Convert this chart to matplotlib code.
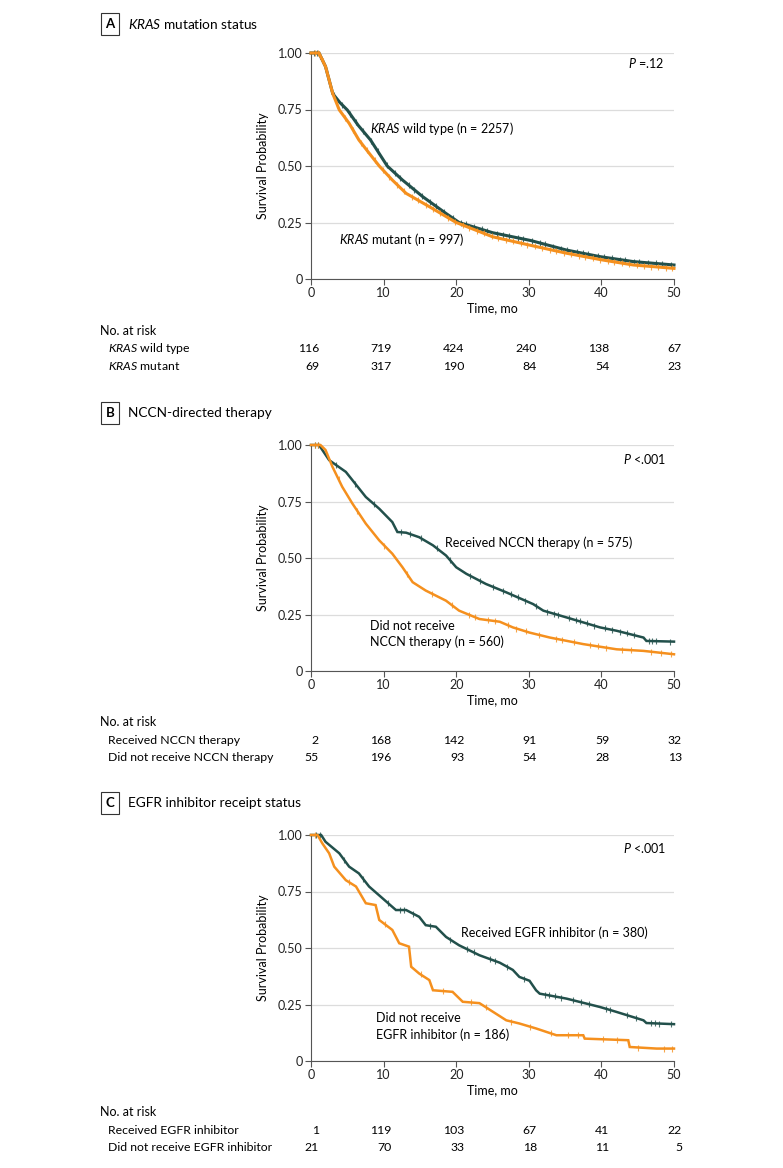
import numpy as np
import matplotlib.pyplot as plt

plt.rcParams['font.family'] = ['Lato', 'DejaVu Sans']
plt.rcParams['font.size'] = 9
plt.rcParams['mathtext.fontset'] = 'custom'
plt.rcParams['mathtext.rm'] = 'Lato'
plt.rcParams['mathtext.it'] = 'Lato:italic'

W, H = 783, 1168
dark = '#22504b'
orange = '#f5901e'
grey = '#555555'

# ---- Panel A: KRAS mutation status ----
a_wt_t = [0, 1.1, 2.0, 3.0, 4.0, 5.0, 6.5, 8.2, 10.5, 12.6, 15.4, 18.6, 20.4, 25.0, 30.3, 35.2, 39.8, 44.4, 50]
a_wt_s = [1.0, 1.0, 0.94, 0.82, 0.78, 0.748, 0.68, 0.615, 0.50, 0.438, 0.364, 0.29, 0.25, 0.205, 0.17, 0.128, 0.099, 0.077, 0.062]
a_mt_t = [0, 1.1, 2.0, 3.0, 3.9, 5.25, 6.6, 8.0, 9.4, 11.2, 13.1, 16.3, 20.0, 25.0, 30.1, 35.2, 40.0, 44.4, 50]
a_mt_s = [1.0, 1.0, 0.94, 0.82, 0.748, 0.689, 0.615, 0.557, 0.50, 0.438, 0.379, 0.32, 0.25, 0.187, 0.15, 0.114, 0.085, 0.062, 0.047]
a_wt_cens = [0.4, 0.8, 1.3, 2.2, 3.1, 4.3, 5.4, 6.2, 7.1, 8.3, 9.2, 10.4, 11.6, 12.3, 13.5, 14.2, 15.3, 16.4, 17.2,
             18.3, 19.5, 20.6, 21.3, 22.4, 23.5, 24.2, 25.6, 26.4, 27.3, 28.5, 29.2, 30.4, 31.6, 32.3, 33.4, 34.5,
             35.3, 36.6, 37.4, 38.2, 39.5, 40.3, 41.4, 42.6, 43.3, 44.5, 45.2, 46.4, 47.5, 48.3, 49.6]
a_mt_cens = [0.5, 1.0, 1.6, 2.5, 3.6, 4.7, 5.8, 6.9, 7.7, 8.8, 9.9, 10.8, 11.9, 12.8, 13.9, 14.8, 15.9, 16.8, 17.8,
             18.9, 19.8, 20.9, 21.8, 22.9, 23.8, 24.9, 25.8, 26.9, 27.8, 28.9, 29.8, 30.9, 31.8, 32.9, 33.8, 34.9,
             35.8, 36.9, 37.8, 38.9, 39.8, 40.9, 41.8, 42.9, 43.8, 44.9, 45.8, 46.9, 47.8, 48.9, 49.7]
a_labels = [r'$\it{KRAS}$ wild type', r'$\it{KRAS}$ mutant']
a_risk_wt = [116, 719, 424, 240, 138, 67]
a_risk_mt = [69, 317, 190, 84, 54, 23]

# ---- Panel B: NCCN-directed therapy ----
b_rec_t = [0, 1.1, 2.5, 4.8, 7.55, 9.4, 11.2, 11.9, 13.1, 14.9, 16.8, 18.6, 20.0, 21.4, 24.1, 26.9, 30.6, 32.0,
           35.2, 39.8, 42.1, 45.8, 46.2, 50]
b_rec_s = [1.0, 1.0, 0.933, 0.881, 0.77, 0.718, 0.659, 0.615, 0.612, 0.592, 0.556, 0.511, 0.459, 0.43, 0.385,
           0.348, 0.296, 0.267, 0.237, 0.193, 0.178, 0.148, 0.133, 0.13]
b_not_t = [0, 1.3, 2.0, 2.95, 4.3, 5.7, 7.55, 9.4, 11.2, 12.6, 14.0, 15.8, 18.6, 20.4, 23.2, 26.0, 27.8, 30.1,
           32.9, 37.5, 42.1, 45.8, 50]
b_not_s = [1.0, 1.0, 0.978, 0.904, 0.815, 0.741, 0.652, 0.578, 0.519, 0.459, 0.393, 0.356, 0.311, 0.267, 0.23,
           0.218, 0.193, 0.17, 0.148, 0.119, 0.096, 0.089, 0.074]
b_rec_cens = [0.6, 1.0, 3.4, 6.1, 8.7, 12.4, 13.6, 15.2, 17.3, 19.1, 21.9, 23.3, 25.0, 26.5, 27.5, 28.5, 29.5,
              31.0, 32.5, 33.5, 34.0, 35.5, 36.5, 37.0, 38.0, 39.0, 40.5, 41.5, 42.5, 43.5, 44.5, 46.5, 47.0,
              47.5, 49.5]
b_not_cens = [0.5, 0.9, 3.8, 6.4, 10.1, 13.2, 16.7, 19.4, 21.7, 22.6, 24.4, 25.3, 27.1, 28.3, 29.6, 31.4,
              33.8, 34.6, 36.2, 38.4, 39.6, 40.7, 42.9, 44.1, 46.8, 48.2, 49.6]
b_labels = ['Received NCCN therapy', 'Did not receive NCCN therapy']
b_risk_rec = [2, 168, 142, 91, 59, 32]
b_risk_not = [55, 196, 93, 54, 28, 13]

# ---- Panel C: EGFR inhibitor receipt status ----
c_rec_t = [0, 1.4, 2.0, 3.9, 5.25, 6.6, 8.0, 9.85, 11.7, 13.1, 14.9, 15.8, 17.2, 18.6, 20.4, 23.2, 26.0, 27.8,
           28.7, 30.1, 31.0, 31.5, 35.2, 39.8, 42.1, 45.8, 46.2, 50]
c_rec_s = [1.0, 1.0, 0.97, 0.919, 0.86, 0.83, 0.772, 0.72, 0.668, 0.668, 0.638, 0.601, 0.594, 0.549, 0.512,
           0.468, 0.435, 0.403, 0.372, 0.355, 0.313, 0.298, 0.276, 0.239, 0.217, 0.18, 0.168, 0.163]
c_not_t = [0, 0.9, 1.56, 2.5, 3.2, 4.8, 6.2, 7.55, 8.9, 9.4, 11.2, 12.15, 13.5, 13.8, 14.9, 16.3, 16.8, 19.5,
           20.9, 23.2, 25.0, 26.9, 28.7, 31.0, 33.8, 37.5, 37.7, 43.7, 43.9, 47.6, 50]
c_not_s = [1.0, 1.0, 0.963, 0.919, 0.86, 0.8, 0.772, 0.698, 0.69, 0.624, 0.58, 0.521, 0.506, 0.417, 0.387,
           0.358, 0.313, 0.306, 0.262, 0.256, 0.219, 0.18, 0.166, 0.144, 0.114, 0.114, 0.099, 0.092, 0.062,
           0.055, 0.055]
c_rec_cens = [0.7, 1.2, 4.6, 7.2, 10.6, 12.2, 12.8, 14.1, 16.4, 19.2, 21.5, 22.4, 24.6, 25.4, 27.0, 29.3,
              32.3, 32.8, 33.6, 34.5, 36.1, 37.2, 38.3, 40.6, 41.2, 43.5, 44.8, 46.8, 47.4, 48.0, 49.6]
c_not_cens = [0.6, 5.3, 10.2, 15.1, 18.2, 22.1, 24.1, 27.6, 30.2, 33.0, 35.4, 36.8, 40.2, 42.1, 45.1, 48.6, 49.7]
c_labels = ['Received EGFR inhibitor', 'Did not receive EGFR inhibitor']
c_risk_rec = [1, 119, 103, 67, 41, 22]
c_risk_not = [21, 70, 33, 18, 11, 5]

risk_times = [0, 10, 20, 30, 40, 50]

fig = plt.figure(figsize=(W / 100, H / 100), dpi=100)


def px_axes(x0, y0, x1, y1):
    return fig.add_axes([x0 / W, 1 - y1 / H, (x1 - x0) / W, (y1 - y0) / H])


def ftext(x, y, s, **kw):
    return fig.text(x / W, 1 - y / H, s, **kw)


def km_panel(top, bottom, curves, header_y, letter, title):
    ax = px_axes(311, top, 674, bottom)
    for t, s, cens, col, lw in curves:
        ax.plot(t, s, color=col, lw=lw, solid_joinstyle='miter', clip_on=False, zorder=3)
        cy = np.interp(cens, t, s)
        ax.plot(cens, cy, ls='none', marker='|', ms=4.5, mew=0.8, color=col, alpha=0.8,
                clip_on=False, zorder=3)
    ax.set_xlim(0, 50)
    ax.set_ylim(0, 1.0)
    ax.set_xticks(risk_times)
    ax.set_yticks([0, 0.25, 0.5, 0.75, 1.0])
    ax.set_yticklabels(['0', '0.25', '0.50', '0.75', '1.00'])
    ax.grid(axis='y', color='#dcdcdc', lw=0.9, zorder=0)
    ax.set_axisbelow(True)
    for sp in ['top', 'right']:
        ax.spines[sp].set_visible(False)
    for sp in ['left', 'bottom']:
        ax.spines[sp].set_color(grey)
        ax.spines[sp].set_linewidth(0.8)
    ax.tick_params(colors=grey, labelcolor='#222222', length=4, width=0.8, labelsize=9, pad=2)
    ax.set_xlabel('Time, mo', fontsize=9, labelpad=2)
    ftext(263, (top + bottom) / 2, 'Survival Probability', rotation=90, ha='center', va='center', fontsize=9)
    ftext(110, header_y, letter, ha='center', va='center', fontweight='bold', fontsize=9.5,
          bbox=dict(boxstyle='square,pad=0.35', fc='white', ec='#333333', lw=0.8))
    ftext(128, header_y, title, ha='left', va='center', fontsize=9.8)
    return ax


def risk_table(y0, labels, rows):
    ftext(100, y0, 'No. at risk', ha='left', va='center', fontsize=9)
    for i, (lab, vals) in enumerate(zip(labels, rows)):
        y = y0 + 18 + 17.5 * i
        ftext(108, y, lab, ha='left', va='center', fontsize=8.8)
        for t, v in zip(risk_times, vals):
            ftext(311 + t * 7.26 + 8, y, str(v), ha='right', va='center', fontsize=8.8)


# Panel A
ax = km_panel(53, 279, [(a_wt_t, a_wt_s, a_wt_cens, dark, 2.2), (a_mt_t, a_mt_s, a_mt_cens, orange, 2.2)],
              24, 'A', r'$\it{KRAS}$ mutation status')
ax.text(8.1, 0.664, r'$\it{KRAS}$ wild type (n = 2257)', ha='left', va='center', fontsize=9)
ax.text(3.9, 0.173, r'$\it{KRAS}$ mutant (n = 997)', ha='left', va='center', fontsize=9)
ax.text(48.6, 0.956, r'$\it{P}$ =.12', ha='right', va='center', fontsize=9)
risk_table(331, a_labels, [a_risk_wt, a_risk_mt])

# Panel B
ax = km_panel(445, 671, [(b_rec_t, b_rec_s, b_rec_cens, dark, 1.8), (b_not_t, b_not_s, b_not_cens, orange, 1.8)],
              413, 'B', 'NCCN-directed therapy')
ax.text(18.5, 0.566, 'Received NCCN therapy (n = 575)', ha='left', va='center', fontsize=9)
ax.text(8.1, 0.165, 'Did not receive\nNCCN therapy (n = 560)', ha='left', va='center', fontsize=9,
        linespacing=1.35)
ax.text(48.9, 0.938, r'$\it{P}$ <.001', ha='right', va='center', fontsize=9)
risk_table(722, b_labels, [b_risk_rec, b_risk_not])

# Panel C
ax = km_panel(835, 1061, [(c_rec_t, c_rec_s, c_rec_cens, dark, 1.8), (c_not_t, c_not_s, c_not_cens, orange, 1.8)],
              803, 'C', 'EGFR inhibitor receipt status')
ax.text(20.7, 0.567, 'Received EGFR inhibitor (n = 380)', ha='left', va='center', fontsize=9)
ax.text(9.0, 0.153, 'Did not receive\nEGFR inhibitor (n = 186)', ha='left', va='center', fontsize=9,
        linespacing=1.35)
ax.text(48.9, 0.943, r'$\it{P}$ <.001', ha='right', va='center', fontsize=9)
risk_table(1112, c_labels, [c_risk_rec, c_risk_not])

fig.savefig('out.png', dpi=100)
